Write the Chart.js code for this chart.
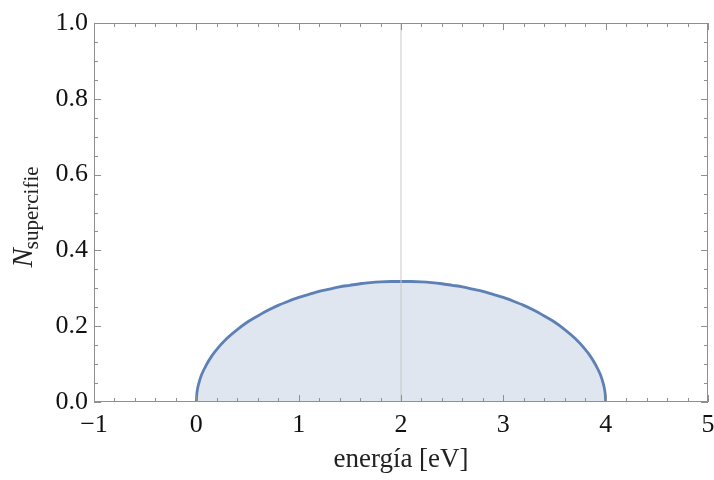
<!DOCTYPE html>
<html>
<head>
<meta charset="utf-8">
<script src="https://cdn.jsdelivr.net/npm/chart.js@4.4.0/dist/chart.umd.min.js"></script>
<style>
  body { margin: 0; background: #fff; }
  #wrap { width: 714px; height: 480px; }
</style>
</head>
<body>
<div id="wrap"><canvas id="dosChart" width="714" height="480"></canvas></div>
<script>
// values (energy in eV, N)
const energia = [0, 0.005, 0.01, 0.02, 0.05, 0.1, 0.15, 0.2, 0.3, 0.4, 0.5, 0.6, 0.7, 0.8, 0.9, 1.0, 1.1, 1.2, 1.3, 1.4, 1.5, 1.6, 1.7, 1.8, 1.9, 2.0,
                 2.1, 2.2, 2.3, 2.4, 2.5, 2.6, 2.7, 2.8, 2.9, 3.0, 3.1, 3.2, 3.3, 3.4, 3.5, 3.6, 3.7, 3.8, 3.85, 3.9, 3.95, 3.98, 3.99, 3.995, 4.0];
const nSuperficie = [0, 0.022, 0.032, 0.045, 0.071, 0.099, 0.121, 0.139, 0.168, 0.191, 0.211, 0.227, 0.242, 0.255, 0.266, 0.276, 0.284, 0.292, 0.298, 0.304, 0.308, 0.312, 0.315, 0.317, 0.318, 0.318,
                     0.318, 0.317, 0.315, 0.312, 0.308, 0.304, 0.298, 0.292, 0.284, 0.276, 0.266, 0.255, 0.242, 0.227, 0.211, 0.191, 0.168, 0.139, 0.121, 0.099, 0.071, 0.045, 0.032, 0.022, 0];
const xTicks = [-1, 0, 1, 2, 3, 4, 5];
const yTicks = [0, 0.2, 0.4, 0.6, 0.8, 1.0];
const marcaX = [2, 2];
const marcaY = [0, 1];

const serif = '"Liberation Serif", "DejaVu Serif", serif';
const curva = energia.map((e, i) => ({ x: e, y: nSuperficie[i] }));
const marca = marcaX.map((e, i) => ({ x: e, y: marcaY[i] }));

// frame + inward ticks on all four sides, Mathematica style
const framePlugin = {
    id: 'frame',
    afterDatasetsDraw(chart) {
        const ctx = chart.ctx;
        const a = chart.chartArea;
        const xs = chart.scales.x, ys = chart.scales.y;
        ctx.save();
        ctx.strokeStyle = '#8f8f8f';
        ctx.lineWidth = 1;
        ctx.strokeRect(a.left + 0.5, a.top + 0.5, a.right - a.left - 1, a.bottom - a.top - 1);
        ctx.beginPath();
        for (let i = 0; i <= 30; i++) {
            const v = xs.min + i * 0.2;
            const px = Math.round(xs.getPixelForValue(v)) + 0.5;
            const len = i % 5 === 0 ? 7 : 4;
            ctx.moveTo(px, a.bottom); ctx.lineTo(px, a.bottom - len);
            ctx.moveTo(px, a.top); ctx.lineTo(px, a.top + len);
        }
        for (let i = 0; i <= 20; i++) {
            const v = ys.min + i * 0.05;
            const py = Math.round(ys.getPixelForValue(v)) + 0.5;
            const len = i % 4 === 0 ? 7 : 4;
            ctx.moveTo(a.left, py); ctx.lineTo(a.left + len, py);
            ctx.moveTo(a.right, py); ctx.lineTo(a.right - len, py);
        }
        ctx.stroke();
        ctx.restore();
    },
    afterDraw(chart) {
        // y axis title with subscript
        const ctx = chart.ctx;
        const a = chart.chartArea;
        ctx.save();
        ctx.translate(32, (a.top + a.bottom) / 2 + 4);
        ctx.rotate(-Math.PI / 2);
        ctx.fillStyle = '#222';
        ctx.textBaseline = 'alphabetic';
        ctx.font = 'italic 29px ' + serif;
        const wN = ctx.measureText('N').width;
        ctx.font = '21px ' + serif;
        const wS = ctx.measureText('supercifie').width;
        const x0 = -(wN + wS) / 2;
        ctx.font = 'italic 29px ' + serif;
        ctx.fillText('N', x0, 0);
        ctx.font = '21px ' + serif;
        ctx.fillText('supercifie', x0 + wN - 1, 6);
        ctx.restore();
    }
};

const ctx = document.getElementById('dosChart').getContext('2d');
const dosChart = new Chart(ctx, {
    type: 'scatter',
    data: {
        datasets: [{
            data: marca,
            showLine: true,
            borderColor: '#c6c6c6',
            borderWidth: 1,
            pointRadius: 0,
            fill: false
        }, {
            data: curva,
            showLine: true,
            borderColor: '#5e81b5',
            backgroundColor: 'rgba(94, 129, 181, 0.2)',
            borderWidth: 2.8,
            pointRadius: 0,
            cubicInterpolationMode: 'monotone',
            fill: 'origin'
        }]
    },
    options: {
        responsive: false,
        animation: false,
        layout: { padding: { top: 23, right: 6, left: 0, bottom: 0 } },
        plugins: {
            legend: { display: false },
            tooltip: { enabled: false }
        },
        scales: {
            x: {
                type: 'linear',
                min: -1,
                max: 5,
                afterBuildTicks: function(scale) {
                    scale.ticks = xTicks.map(v => ({ value: v }));
                },
                afterFit: function(scale) {
                    scale.height = 78;
                    scale.paddingLeft = 0;
                    scale.paddingRight = 0;
                },
                grid: { display: false, drawTicks: false },
                border: { display: false },
                ticks: {
                    padding: 8,
                    color: '#111',
                    font: { family: serif, size: 26 },
                    callback: function(value) {
                        return String(value).replace('-', '\u2212');
                    }
                },
                title: {
                    display: true,
                    text: 'energía [eV]',
                    color: '#222',
                    font: { family: serif, size: 27 },
                    padding: { top: 9 }
                }
            },
            y: {
                min: 0,
                max: 1,
                afterBuildTicks: function(scale) {
                    scale.ticks = yTicks.map(v => ({ value: v }));
                },
                afterFit: function(scale) {
                    scale.width = 94;
                    scale.paddingTop = 0;
                    scale.paddingBottom = 0;
                },
                grid: { display: false, drawTicks: false },
                border: { display: false },
                ticks: {
                    padding: 6,
                    color: '#111',
                    font: { family: serif, size: 26 },
                    callback: function(value) {
                        return value.toFixed(1);
                    }
                }
            }
        }
    },
    plugins: [framePlugin]
});
</script>
</body>
</html>
